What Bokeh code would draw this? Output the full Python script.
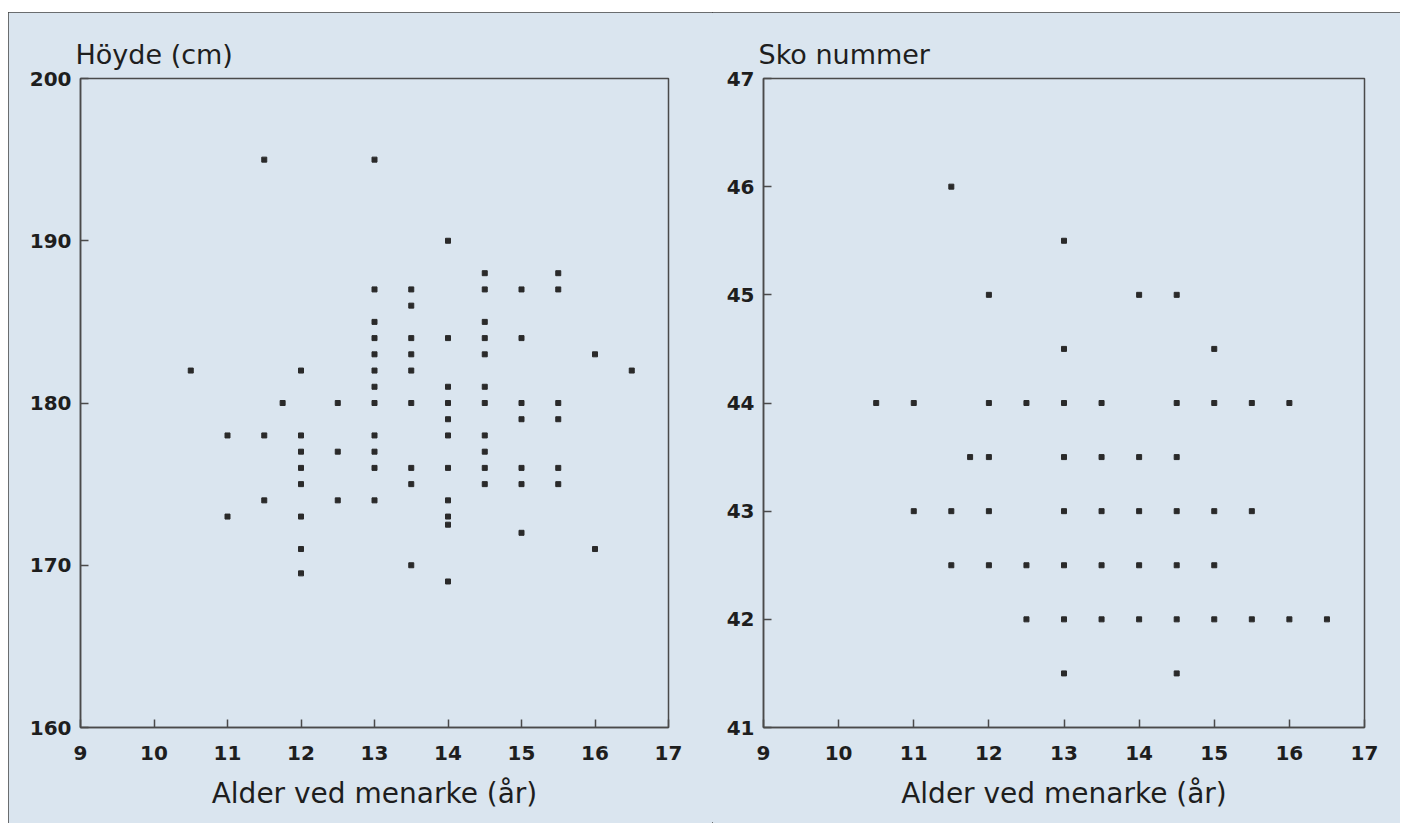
from bokeh.plotting import figure
from bokeh.layouts import row
from bokeh.models import Range1d, FixedTicker, ColumnDataSource
from bokeh.embed import file_html
from bokeh.resources import INLINE

# ---- data: left panel (height vs age at menarche) ----
h_age = ([10.5] + [11]*2 + [11.5]*3 + [11.75] + [12]*8 + [12.5]*3 + [13]*12 +
         [13.5]*9 + [14]*11 + [14.5]*11 + [15]*7 + [15.5]*6 + [16]*2 + [16.5])
h_val = ([182] +
         [178, 173] +
         [195, 178, 174] +
         [180] +
         [182, 178, 177, 176, 175, 173, 171, 169.5] +
         [180, 177, 174] +
         [195, 187, 185, 184, 183, 182, 181, 180, 178, 177, 176, 174] +
         [187, 186, 184, 183, 182, 180, 176, 175, 170] +
         [190, 184, 181, 180, 179, 178, 176, 174, 173, 172.5, 169] +
         [188, 187, 185, 184, 183, 181, 180, 178, 177, 176, 175] +
         [187, 184, 180, 179, 176, 175, 172] +
         [188, 187, 180, 179, 176, 175] +
         [183, 171] +
         [182])

# ---- data: right panel (shoe size vs age at menarche) ----
s_age = ([10.5] + [11]*2 + [11.5]*3 + [11.75] + [12]*5 + [12.5]*3 + [13]*8 +
         [13.5]*5 + [14]*5 + [14.5]*7 + [15]*5 + [15.5]*3 + [16]*2 + [16.5])
s_val = ([44] +
         [44, 43] +
         [46, 43, 42.5] +
         [43.5] +
         [45, 44, 43.5, 43, 42.5] +
         [44, 42.5, 42] +
         [45.5, 44.5, 44, 43.5, 43, 42.5, 42, 41.5] +
         [44, 43.5, 43, 42.5, 42] +
         [45, 43.5, 43, 42.5, 42] +
         [45, 44, 43.5, 43, 42.5, 42, 41.5] +
         [44.5, 44, 43, 42.5, 42] +
         [44, 43, 42] +
         [44, 42] +
         [42])

x_ticks = [9, 10, 11, 12, 13, 14, 15, 16, 17]
h_ticks = [160, 170, 180, 190, 200]
s_ticks = [41, 42, 43, 44, 45, 46, 47]

x_title = "Alder ved menarke (år)"
h_title = "Höyde (cm)"
s_title = "Sko nummer"

BG = "#dae5ef"
INK = "#1e1e1e"
LINE = "#4a4a4a"
FONT = "DejaVu Sans"


def make(xs, ys, yr, yticks, title, width, mb_left, mb_right):
    p = figure(width=width, height=811, output_backend="svg", toolbar_location=None,
               x_range=Range1d(9, 17), y_range=Range1d(*yr),
               min_border_left=mb_left, min_border_right=mb_right,
               min_border_top=66, min_border_bottom=96,
               background_fill_color=BG, border_fill_color=BG,
               title=title)
    p.title.text_font = FONT
    p.title.text_font_size = "27px"
    p.title.text_font_style = "normal"
    p.title.text_color = INK
    p.title.align = "left"
    p.title.standoff = 18
    p.title.offset = -5

    p.outline_line_color = LINE
    p.outline_line_width = 1.5
    p.grid.visible = False

    for ax in (p.xaxis[0], p.yaxis[0]):
        ax.axis_line_color = LINE
        ax.axis_line_width = 1.5
        ax.major_tick_line_color = LINE
        ax.major_tick_line_width = 1.5
        ax.major_tick_in = 8
        ax.major_tick_out = 0
        ax.minor_tick_line_color = None
        ax.major_label_text_font = FONT
        ax.major_label_text_font_size = "20px"
        ax.major_label_text_font_style = "bold"
        ax.major_label_text_color = INK

    p.xaxis[0].ticker = FixedTicker(ticks=x_ticks)
    p.yaxis[0].ticker = FixedTicker(ticks=yticks)
    p.xaxis[0].major_label_standoff = 18
    p.yaxis[0].major_label_standoff = 9
    p.xaxis[0].axis_label = x_title
    p.xaxis[0].axis_label_text_font = FONT
    p.xaxis[0].axis_label_text_font_size = "28px"
    p.xaxis[0].axis_label_text_font_style = "normal"
    p.xaxis[0].axis_label_text_color = INK
    p.xaxis[0].axis_label_standoff = 14

    src = ColumnDataSource(dict(x=xs, y=ys))
    p.scatter("x", "y", source=src, marker="square", size=5,
              fill_color="#2a2a2a", line_color="#2a2a2a")
    return p


p1 = make(h_age, h_val, (160, 200), h_ticks, h_title, 704, 72, 44)
p2 = make(s_age, s_val, (41, 47), s_ticks, s_title, 688, 51, 36)

layout = row(p1, p2, styles={"margin-top": "12px", "margin-left": "8px",
                             "background-color": BG,
                             "outline": "1.5px solid #444", "outline-offset": "-1px"})

open("out.html", "w").write(file_html(layout, INLINE))
